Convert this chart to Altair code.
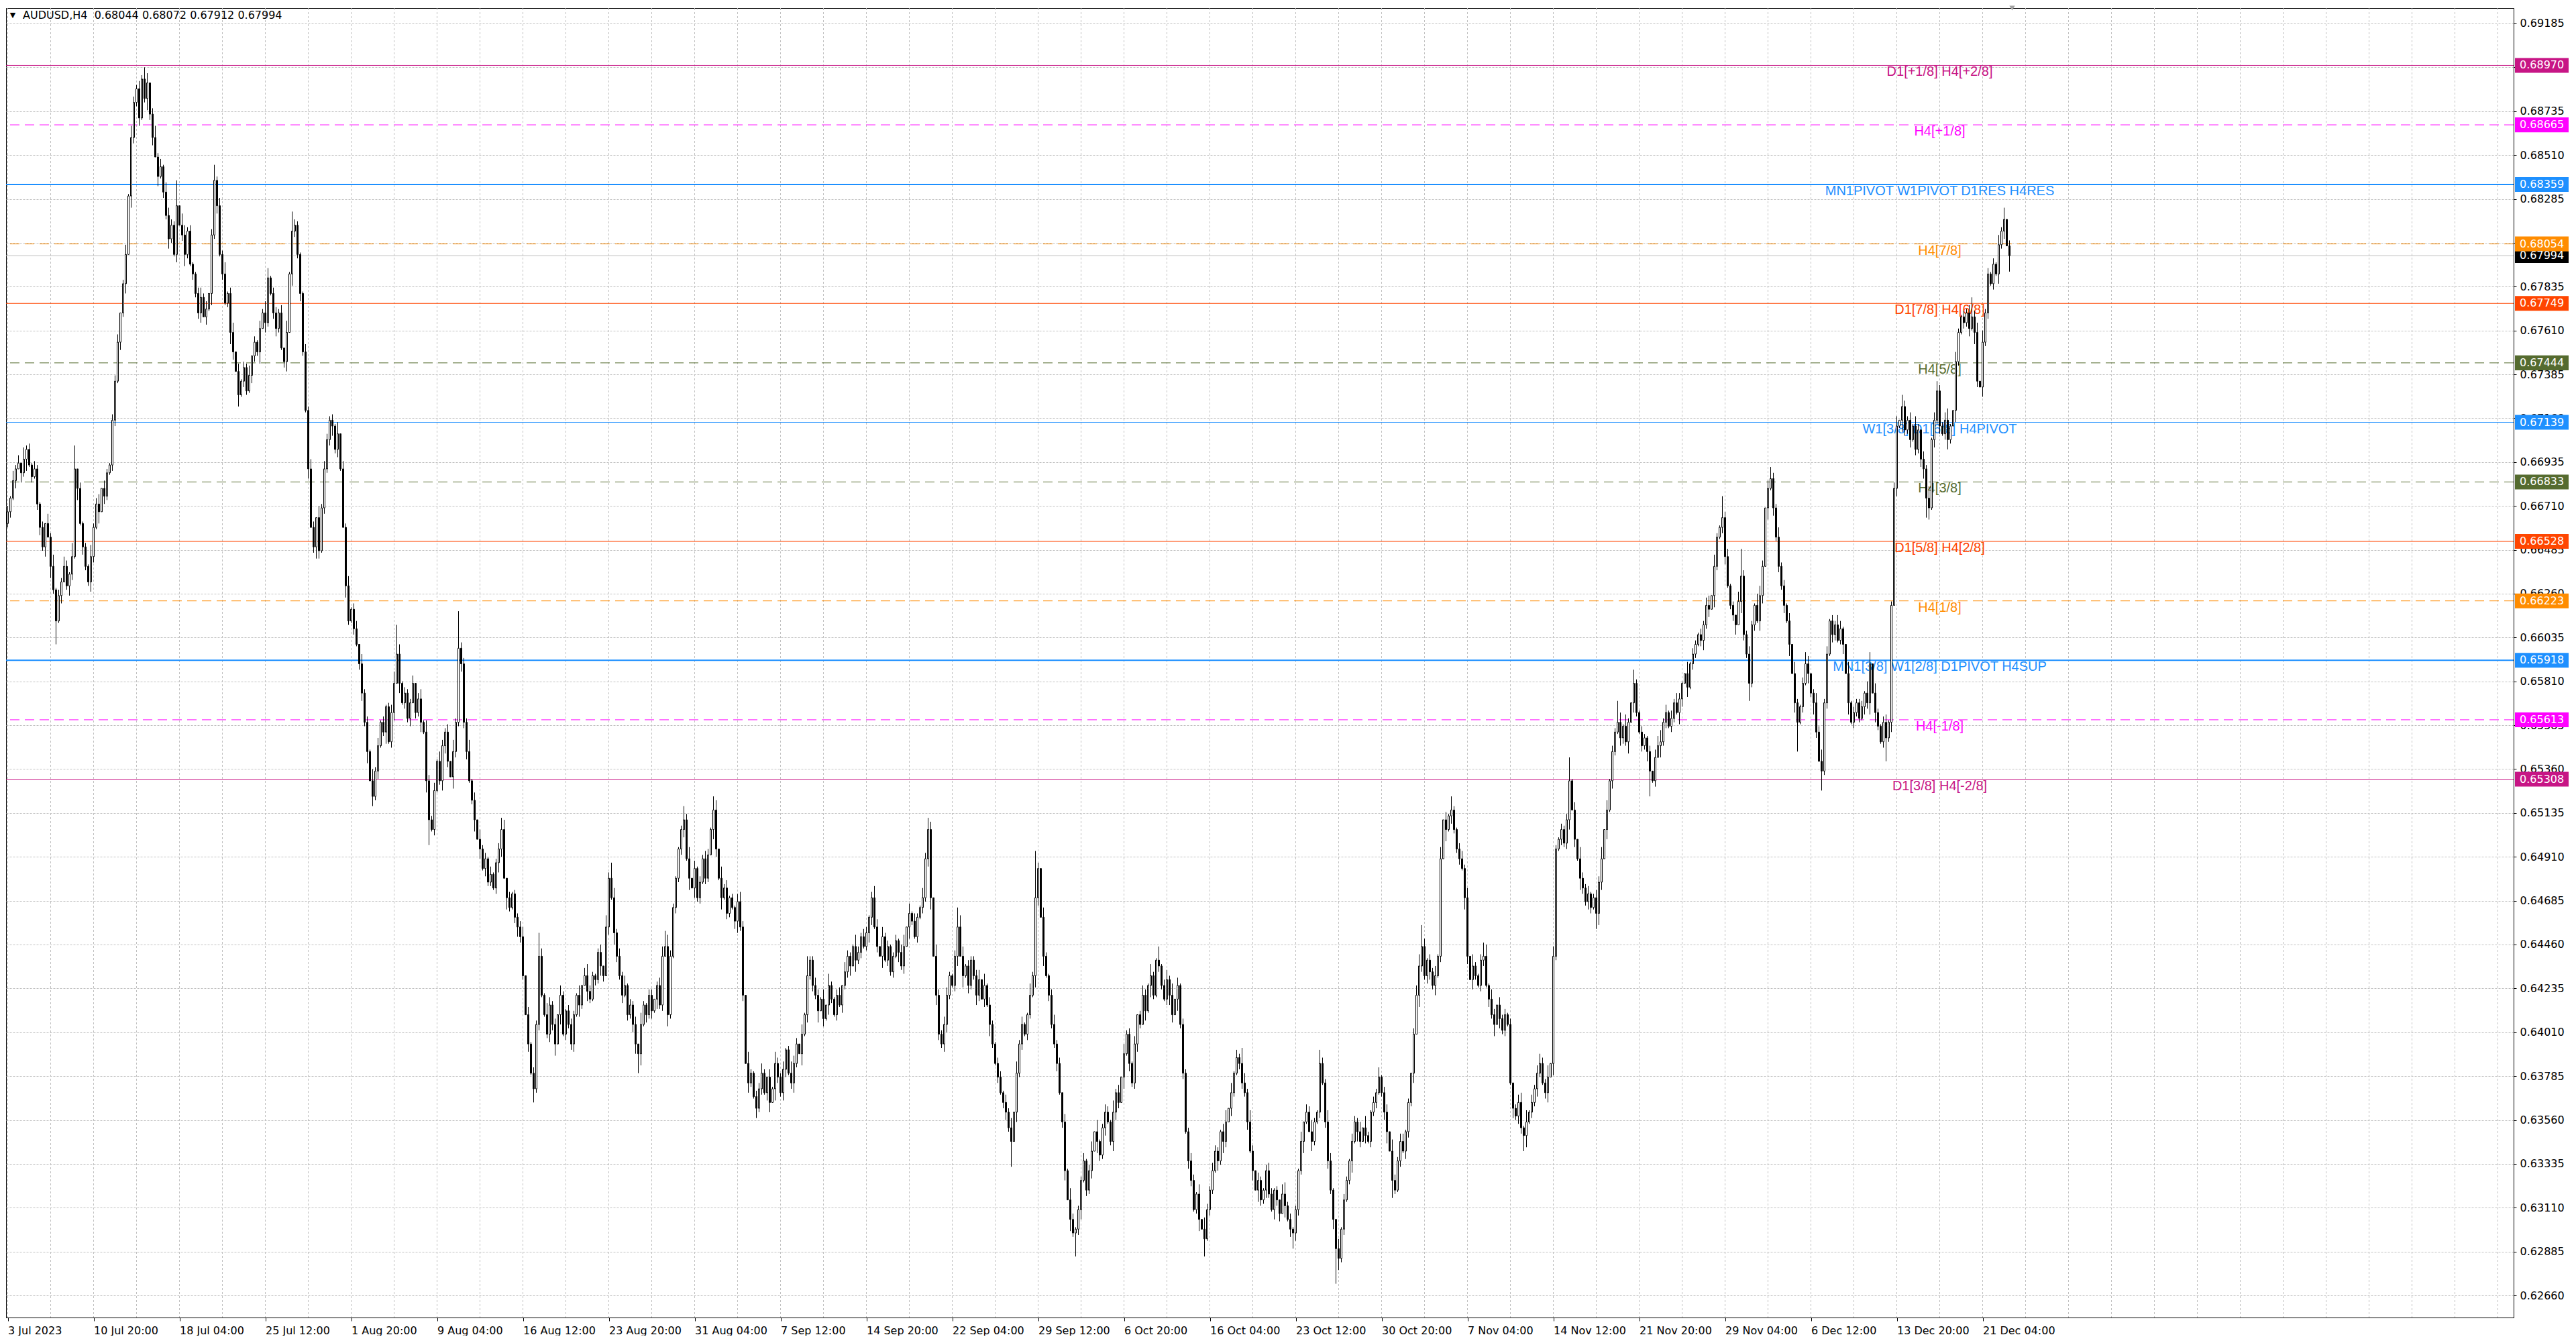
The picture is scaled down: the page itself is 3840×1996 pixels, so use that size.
import altair as alt
import pandas as pd

# --- chart data --------------------------------------------------------------
HEADER = "AUDUSD,H4\u00a0 0.68044 0.68072 0.67912 0.67994"
LAST_OHLC = [0.68044, 0.68072, 0.67912, 0.67994]

X_TICK_LABELS = [
    "3 Jul 2023", "10 Jul 20:00", "18 Jul 04:00", "25 Jul 12:00", "1 Aug 20:00",
    "9 Aug 04:00", "16 Aug 12:00", "23 Aug 20:00", "31 Aug 04:00", "7 Sep 12:00",
    "14 Sep 20:00", "22 Sep 04:00", "29 Sep 12:00", "6 Oct 20:00", "16 Oct 04:00",
    "23 Oct 12:00", "30 Oct 20:00", "7 Nov 04:00", "14 Nov 12:00", "21 Nov 20:00",
    "29 Nov 04:00", "6 Dec 12:00", "13 Dec 20:00", "21 Dec 04:00",
]
BARS_PER_LABEL = 32

Y_TICKS = [
    0.62660, 0.62885, 0.63110, 0.63335, 0.63560, 0.63785, 0.64010, 0.64235,
    0.64460, 0.64685, 0.64910, 0.65135, 0.65360, 0.65585, 0.65810, 0.66035,
    0.66260, 0.66485, 0.66710, 0.66935, 0.67160, 0.67385, 0.67610, 0.67835,
    0.68060, 0.68285, 0.68510, 0.68735, 0.68960, 0.69185,
]

LEVEL_VALUES = [0.68970, 0.68665, 0.68359, 0.68054, 0.67749, 0.67444, 0.67139,
                0.66833, 0.66528, 0.66223, 0.65918, 0.65613, 0.65308]
LEVEL_LABELS = [
    "D1[+1/8] H4[+2/8]", "H4[+1/8]", "MN1PIVOT W1PIVOT D1RES H4RES", "H4[7/8]",
    "D1[7/8] H4[6/8]", "H4[5/8]", "W1[3/8] D1[6/8] H4PIVOT", "H4[3/8]",
    "D1[5/8] H4[2/8]", "H4[1/8]", "MN1[3/8] W1[2/8] D1PIVOT H4SUP", "H4[-1/8]",
    "D1[3/8] H4[-2/8]",
]
LABEL_BAR = 720      # bar the level captions are centred on
SHIFT_BAR = 747      # chart-shift marker at the top edge

# H4 closes in pips (0.0001), one per bar, oldest first
FIRST_OPEN = 6662
CLOSES = """
6668 6675 6684 6690 6693 6688 6695 6700 6692 6686 6690 6672 6660 6650 6662
6655 6640 6628 6612 6625 6632 6640 6630 6636 6645 6690 6680 6662 6650 6640 6632 6645
6660 6672 6668 6680 6676 6688 6692 6715 6735 6755 6770 6785 6800 6830 6860 6878
6885 6870 6890 6880 6888 6872 6860 6850 6840 6845 6832 6820 6808 6815 6800 6825 6815
6810 6800 6812 6795 6790 6780 6770 6778 6768 6772 6780 6810 6838 6825 6800
6790 6775 6780 6760 6750 6740 6728 6735 6742 6730 6738
6748 6755 6750 6762 6770 6765 6788 6780 6770 6762 6770 6752 6745 6760
6790 6812 6815 6800 6780 6750 6720 6690 6660 6650 6665 6648 6670 6690
6705 6715 6712 6700 6708 6690 6660 6630 6612 6618 6608 6600
6590 6575 6560 6545 6530 6522 6535 6548 6560 6555 6568 6550 6565 6580 6595
6580 6570 6575 6562 6570 6580 6565 6572 6560 6555 6530 6510 6505
6525 6540 6530 6548 6555 6540 6532 6545 6560 6598 6590
6560 6545 6530 6520 6510 6500 6495 6485 6490 6478 6482 6475 6488 6495 6505
6480 6470 6465 6472 6460 6455 6450 6430 6410 6395 6380 6372 6405 6440
6420 6410 6400 6415 6405 6395 6410 6420 6400 6412 6405 6395 6410 6420 6415
6425 6430 6422 6418 6430 6428 6442 6435 6430 6455 6480 6470 6452 6440
6430 6420 6425 6410 6415 6405 6395 6390 6405 6415 6410 6420 6412 6418 6425 6415
6440 6445 6410 6440 6465 6480 6495 6505 6510
6490 6480 6475 6485 6470 6478 6490 6480 6492 6505 6515
6495 6480 6470 6475 6462 6470 6465 6458 6468 6455 6420
6385 6375 6380 6368 6362 6372 6380 6370 6378 6365 6372 6385 6378 6370 6382 6392
6380 6375 6385 6395 6390 6400 6410 6430 6438 6425
6420 6412 6418 6408 6415 6425 6418 6410 6420 6415 6425
6432 6440 6435 6445 6438 6442 6450 6445 6452 6460 6470 6455
6445 6440 6450 6438 6445 6432 6440 6448 6442 6435 6445 6455
6462 6458 6450 6460 6465 6470 6490 6505 6470 6440 6420 6400 6395 6405
6420 6430 6425 6440 6455 6440 6430 6435 6425 6438 6430 6420 6428 6418 6425 6415 6405
6395 6385 6378 6370 6365 6360 6352 6345 6360 6380 6395 6405 6400 6410 6420 6430
6470 6485 6460 6440 6430 6420 6405 6395 6385 6370 6355
6330 6315 6305 6298 6300 6310
6325 6335 6320 6330 6340 6350 6345 6338 6352 6360 6355 6345 6360 6370 6365 6378
6390 6400 6385 6375 6395 6410 6405 6420 6412 6425
6430 6420 6438 6435 6425 6418 6428 6420 6410 6418 6425 6405 6380
6350 6335 6325 6310 6318 6305 6300 6295 6310 6320
6330 6340 6335 6350 6345 6355 6362 6370 6380 6388 6385 6375 6370 6355 6340
6330 6320 6325 6315 6320 6330 6318 6310 6320 6315 6308 6318 6312 6305 6300
6298 6310 6330 6345 6355 6360 6350 6345 6355 6360 6385 6375 6355
6335 6320 6305 6290 6285 6300 6315 6325 6335 6345 6355 6350 6345 6352 6348 6345
6360 6365 6370 6378 6370 6360 6350 6340 6325 6320 6335 6345
6340 6350 6365 6380 6400 6420 6435 6445 6430 6438 6432 6425 6430 6440
6490 6510 6505 6512 6515 6505 6495 6490 6485 6470 6440 6428
6435 6430 6425 6438 6440 6425 6418 6410 6405 6415 6408 6402 6410 6405
6375 6362 6358 6365 6352 6348 6355 6360 6365 6372 6380 6385 6375 6370 6378 6385
6440 6495 6500 6505 6498 6510 6530 6515
6500 6490 6480 6475 6468 6472 6465 6470 6462 6478 6490 6505 6515 6530
6545 6555 6560 6552 6558 6550 6560 6570 6580 6565 6555 6548 6552 6545
6535 6530 6542 6548 6550 6560 6565 6558 6562 6570 6565 6572 6580
6585 6578 6590 6595 6600 6605 6602 6610 6620 6618 6625 6640 6655 6660 6665 6645
6630 6620 6615 6610 6622 6635 6605 6595 6580 6610 6620 6612 6625 6640
6670 6680 6685 6670 6655 6640 6630 6620 6612 6600 6585 6570 6560 6568
6580 6590 6585 6575 6570 6555 6540 6535 6570 6595 6612
6605 6610 6602 6608 6600 6585 6570 6560 6565
6570 6562 6568 6575 6570 6590 6575 6565 6558 6550 6560 6552 6560
6620 6680 6712 6715 6722 6710 6715 6705 6712 6700 6710 6695 6690 6675 6670
6705 6715 6730 6712 6708 6715 6705 6712 6720 6745 6760 6768 6765
6770 6762 6768 6760 6735 6732 6755 6770 6790 6785 6795 6790 6805
6812 6818 6804.4 6799.4
"""

# wick lengths in pips beyond the body, one digit per bar
UPPER_WICKS = """
3152406231 4213052613 2531740312 1623504213 3402516324 2150362415 4321065231 1352403624
2613504132 5031426213 3240615321 1425306243 2316042513 4052316241 3124605132 2403516324
1532406213 3261405231 4123650312 2350413264 1642305213 3215046321 2406315242 5132406213
3024516321 1253604132 4312506241 2145306213 3520416324 1264305132 2431506213 4053216324
3126405231 2314605142 1532406324 4213065132 2350614213 3142506241 1624305213 5230416312
2413506124 3162405231 4025316213 1352604132 2431506324 3214605142 1526304213 4312056231
2150436214 3264105132 1432506213 2513406324 4120356241 3251604132 1342506213 2615304231
3024516142 4132605213 2351406324 1243605132 3516204213 2130456241 4253106132 1324506213
3412056324 2165304132 5231406213 1402536241 3254106132 2316405213 4123506324 1530426142
3246105213 2413506231 3152406324
"""
LOWER_WICKS = """
2314052613 1342506231 4025316142 2531604213 3142506324 1263405132 5214036213 2350416241
3126405132 1432605213 4213506324 2150364132 3524106213 1342605241 2613405132 4032516213
1254306324 3412605142 2135406213 5320416231 1243605132 3416205213 2530416324 1324506142
4152306213 2341605231 3205416132 1462305213 2314506324 4135206142 3260415213 1423506231
2541306132 3152406213 1324605324 4213506142 2530416213 1342605231 3216405132 2413506213
5132406324 1254306142 3420516213 2135406231 4312605132 1526304213 3241506324 2153406142
4326105213 1342506231 2615304132 3124605213 1432506324 4251306142 2316405213 3142605231
1524306132 4213506213 2350416324 3126405142 1432605213 2541306231 3216405132 1352406213
4123506324 2315406142 3241605213 1526304231 4312506132 2143605213 3250416324 1324506142
4135206213 2416305231 3152406132
"""

# spike highs / lows (pips) that stand out on the picture
SPIKE_HIGHS = {25: 6702, 51: 6896, 63: 6838, 77: 6846, 97: 6793, 106: 6822, 145: 6610,
               168: 6617, 184: 6511, 198: 6452, 225: 6488, 245: 6453, 252: 6517, 263: 6522,
               298: 6440, 322: 6473, 343: 6511, 354: 6465, 383: 6494, 429: 6445, 460: 6393,
               489: 6392, 511: 6381, 527: 6456, 538: 6522, 550: 6447, 571: 6390, 582: 6542,
               600: 6571, 606: 6587, 639: 6676, 646: 6649, 657: 6691, 670: 6596, 694: 6596,
               706: 6728, 719: 6735, 732: 6778, 744: 6824}
SPIKE_LOWS = {18: 6600, 86: 6722, 136: 6518, 157: 6497, 196: 6365, 235: 6380, 279: 6357,
              374: 6332, 398: 6286, 446: 6286, 479: 6290, 495: 6272, 516: 6316, 565: 6340,
              592: 6454, 612: 6522, 649: 6571, 667: 6545, 676: 6525, 700: 6540, 715: 6665}

# --- styles ------------------------------------------------------------------
LEVEL_COLORS = ["#C71585", "#FF00FF", "#1E90FF", "#FF8C00", "#FF4500", "#556B2F", "#1E90FF",
                "#556B2F", "#FF4500", "#FF8C00", "#1E90FF", "#FF00FF", "#C71585"]
LEVEL_DASHED = [False, True, False, True, False, True, False, True, False, True, False, True, False]
LEVEL_WIDTHS = [1, 1, 2, 1, 1, 1, 1, 1, 1, 1, 2, 1, 1]
GRID = "#C0C0C0"

W, H = 3738, 1952
X_DOMAIN = [-0.625, -0.625 + W / 4]
Y_DOMAIN = [0.625466, 0.692641]

# --- build tables --------------------------------------------------------------
closes = [float(v) for v in CLOSES.split()]
n = len(closes)
up = [int(ch) for ch in UPPER_WICKS if ch.isdigit()][:n]
dn = [int(ch) for ch in LOWER_WICKS if ch.isdigit()][:n]
opens = [FIRST_OPEN] + closes[:-1]
rows = []
for i, (o, c) in enumerate(zip(opens, closes)):
    h = max(max(o, c) + up[i], SPIKE_HIGHS.get(i, 0))
    lo = min(min(o, c) - dn[i], SPIKE_LOWS.get(i, 99999))
    rows.append({"i": i, "o": o / 1e4, "h": h / 1e4, "l": lo / 1e4, "c": c / 1e4})
rows[-1].update(o=LAST_OHLC[0], h=LAST_OHLC[1], l=LAST_OHLC[2], c=LAST_OHLC[3])
bars = pd.DataFrame(rows)

levels = pd.DataFrame({
    "level": LEVEL_VALUES,
    "label": LEVEL_LABELS,
    "color": LEVEL_COLORS,
    "dash": ["dash" if d else "solid" for d in LEVEL_DASHED],
    "width": LEVEL_WIDTHS,
    "lx": LABEL_BAR,
})
tags = pd.DataFrame({
    "level": [LAST_OHLC[3]] + LEVEL_VALUES,
    "color": ["black"] + LEVEL_COLORS,
})
tags["txt"] = tags["level"].map(lambda v: f"{v:.5f}")
tags["lo"] = tags["level"] - 0.00038
tags["hi"] = tags["level"] + 0.00038

# --- scales and axes -----------------------------------------------------------
xs = alt.Scale(domain=X_DOMAIN, nice=False, zero=False)
ys = alt.Scale(domain=Y_DOMAIN, nice=False, zero=False)
label_js = "[" + ",".join(f"'{s}'" for s in X_TICK_LABELS) + "]"
x_axis = alt.Axis(
    values=[k * BARS_PER_LABEL for k in range(len(X_TICK_LABELS))],
    labelExpr=f"{label_js}[round(datum.value / {BARS_PER_LABEL})]",
    grid=False, domainColor="black", tickColor="black", tickSize=5,
    labelAlign="left", labelBaseline="top", labelPadding=6,
    labelFont="DejaVu Sans", labelFontSize=16, labelColor="black",
    labelOverlap=False, labelFlush=False, title=None,
)
y_axis = alt.Axis(
    orient="right", values=Y_TICKS, format=".5f",
    grid=True, gridColor=GRID, gridDash=[3, 2], gridWidth=1,
    domainColor="black", tickColor="black", tickSize=4,
    labelFont="DejaVu Sans", labelFontSize=16, labelColor="black",
    labelPadding=5, labelOverlap=False, title=None,
)


def X(field):
    return alt.X(f"{field}:Q", scale=xs, axis=x_axis)


def Y(field):
    return alt.Y(f"{field}:Q", scale=ys, axis=y_axis)


# --- layers --------------------------------------------------------------------
vgrid = alt.Chart(pd.DataFrame({"g": list(range(0, int(X_DOMAIN[1]) + 1, BARS_PER_LABEL // 2))})).mark_rule(
    color=GRID, strokeDash=[3, 3], strokeWidth=1
).encode(x=X("g"))

price_line = alt.Chart(pd.DataFrame({"level": [LAST_OHLC[3]]})).mark_rule(
    color="#C0C0C0", strokeWidth=1
).encode(y=Y("level"))

level_lines = alt.Chart(levels).mark_rule().encode(
    y=Y("level"),
    color=alt.Color("color:N", scale=None),
    strokeDash=alt.StrokeDash("dash:N", scale=alt.Scale(domain=["solid", "dash"], range=[[1, 0], [14, 8]]), legend=None),
    strokeWidth=alt.StrokeWidth("width:Q", scale=None),
)

level_text = alt.Chart(levels).mark_text(
    font="Liberation Sans", fontSize=20, baseline="top", align="center", dy=0
).encode(x=X("lx"), y=Y("level"), text="label:N", color=alt.Color("color:N", scale=None))

wicks = alt.Chart(bars).mark_rule(color="black", strokeWidth=1).encode(
    x=X("i"), y=Y("l"), y2="h"
)

bodies = alt.Chart(bars).transform_calculate(
    xl="datum.i - 0.25", xr="datum.i + 0.25",
    fill="datum.c >= datum.o ? 'white' : 'black'",
).mark_rect(stroke="black", strokeWidth=1).encode(
    x=X("xl"), x2="xr", y=Y("o"), y2="c", fill=alt.Fill("fill:N", scale=None)
)

tag_boxes = alt.Chart(tags).mark_rect().encode(
    x=alt.value(W + 2), x2=alt.value(W + 82), y=Y("lo"), y2="hi",
    color=alt.Color("color:N", scale=None),
)
tag_text = alt.Chart(tags).mark_text(
    align="left", baseline="middle", font="DejaVu Sans", fontSize=16, color="white"
).encode(x=alt.value(W + 9), y=Y("level"), text="txt:N")

shift_mark = alt.Chart(pd.DataFrame({"s": [SHIFT_BAR]})).mark_point(
    shape="triangle-down", filled=True, color="#A0A0A0", size=70, opacity=1
).encode(x=X("s"), y=alt.value(0))

header = alt.Chart(pd.DataFrame({"t": [HEADER]})).mark_text(
    align="left", baseline="middle", font="DejaVu Sans", fontSize=16, color="black"
).encode(x=alt.value(25), y=alt.value(11), text="t:N")
header_arrow = alt.Chart(pd.DataFrame({"t": ["\u25bc"]})).mark_text(
    align="center", baseline="middle", font="DejaVu Sans", fontSize=11, color="black"
).encode(x=alt.value(10), y=alt.value(11), text="t:N")

chart = alt.layer(
    vgrid, price_line, level_lines, level_text, wicks, bodies,
    tag_boxes, tag_text, shift_mark, header_arrow, header,
).properties(
    width=W, height=H, padding=0, background="white",
).configure_view(stroke="black", strokeWidth=1)

chart.save("out.html", embed_options={"renderer": "svg", "actions": False})
